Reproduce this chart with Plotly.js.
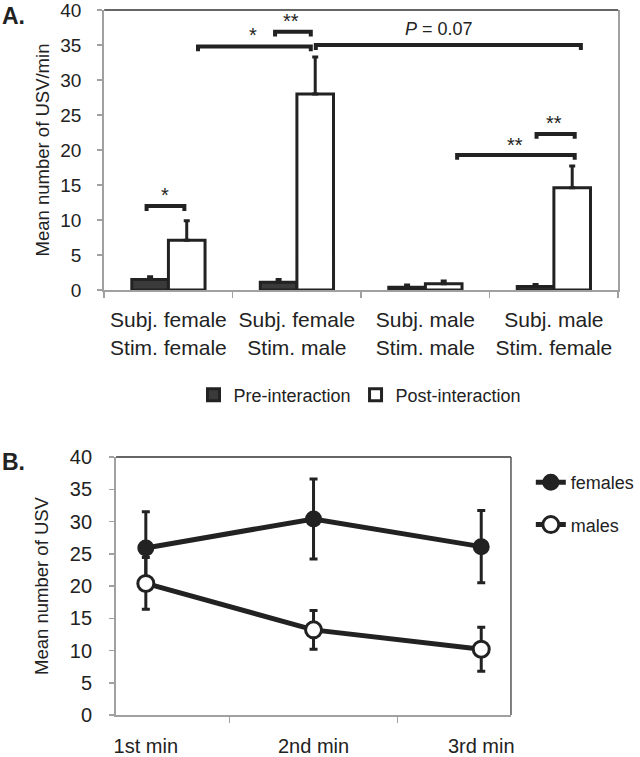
<!DOCTYPE html>
<html>
<head>
<meta charset="utf-8">
<script src="https://cdn.plot.ly/plotly-3.0.1.min.js"></script>
<style>html,body{margin:0;padding:0;background:#fff;}#chart{width:640px;height:757px;}</style>
</head>
<body>
<div id="chart"></div>
<script>
// ---- Panel A data ----
const categories = ['Subj. female<br>Stim. female', 'Subj. female<br>Stim. male', 'Subj. male<br>Stim. male', 'Subj. male<br>Stim. female'];
const preValues = [1.5, 1.1, 0.4, 0.5];
const preErr = [0.4, 0.4, 0.3, 0.3];
const postValues = [7.1, 28.0, 0.9, 14.6];
const postErr = [2.8, 5.3, 0.4, 3.1];

// significance brackets (category-index coordinates)
const sigX0 = [-0.17, 0.83, 0.23, 1.147, 2.247, 2.865];
const sigX1 = [0.124, 1.108, 1.108, 3.21, 3.162, 3.162];
const sigY = [12.0, 36.9, 34.8, 35.0, 19.3, 22.3];
const sigLabel = ['*', '**', '*', '<i>P</i> = 0.07', '**', '**'];
const sigLabelX = [-0.03, 0.954, 0.66, 2.108, 2.695, 3.0];
const sigLabelY = [14.2, 39.0, 37.0, 37.3, 21.3, 24.5];

// ---- Panel B data ----
const minutes = ['1st min', '2nd min', '3rd min'];
const females = [25.9, 30.4, 26.1];
const femalesErr = [5.6, 6.2, 5.6];
const males = [20.4, 13.2, 10.2];
const malesErr = [4.0, 3.0, 3.4];

const FONT = 'Arial, "Liberation Sans", sans-serif';
const DARK = '#222222';
const GRAY = '#a0a0a0';

const traces = [
  {
    type: 'bar', name: 'Pre-interaction', x: categories, y: preValues,
    marker: {color: '#3a3a3a', line: {color: DARK, width: 3}},
    error_y: {type: 'data', symmetric: false, array: preErr, arrayminus: preErr.map(() => 0), color: DARK, thickness: 3, width: 3},
    xaxis: 'x', yaxis: 'y', legend: 'legend'
  },
  {
    type: 'bar', name: 'Post-interaction', x: categories, y: postValues,
    marker: {color: '#ffffff', line: {color: DARK, width: 3}},
    error_y: {type: 'data', symmetric: false, array: postErr, arrayminus: postErr.map(() => 0), color: DARK, thickness: 3, width: 3},
    xaxis: 'x', yaxis: 'y', legend: 'legend'
  },
  {
    type: 'scatter', mode: 'lines+markers', name: 'females', x: minutes, y: females,
    line: {color: DARK, width: 5},
    marker: {color: DARK, size: 15, line: {color: DARK, width: 2}},
    error_y: {type: 'data', array: femalesErr, color: DARK, thickness: 3, width: 4},
    xaxis: 'x2', yaxis: 'y2', legend: 'legend2', legendgroup: 'f'
  },
  {
    type: 'scatter', mode: 'lines+markers', name: 'males', x: minutes, y: males,
    line: {color: DARK, width: 5},
    marker: {color: '#ffffff', size: 16, line: {color: DARK, width: 3}},
    error_y: {type: 'data', array: malesErr, color: DARK, thickness: 3, width: 4},
    xaxis: 'x2', yaxis: 'y2', legend: 'legend2', legendgroup: 'm'
  }
];

const shapes = [];
const annotations = [];
const tickDrop = 0.7;
for (let i = 0; i < sigY.length; i++) {
  shapes.push({
    type: 'path', xref: 'x', yref: 'y',
    path: `M ${sigX0[i]},${sigY[i] - tickDrop} L ${sigX0[i]},${sigY[i]} L ${sigX1[i]},${sigY[i]} L ${sigX1[i]},${sigY[i] - tickDrop}`,
    line: {color: DARK, width: 4}
  });
  const isStar = sigLabel[i].indexOf('*') === 0;
  annotations.push({
    xref: 'x', yref: 'y', x: sigLabelX[i], y: sigLabelY[i], text: sigLabel[i],
    showarrow: false, yanchor: 'middle', xanchor: 'center', yshift: isStar ? -4 : 0,
    font: {family: FONT, size: isStar ? 20 : 18, color: DARK}
  });
}
// top frame lines
shapes.push({type: 'line', xref: 'x domain', yref: 'y domain', x0: 0, x1: 1, y0: 1, y1: 1, line: {color: '#333', width: 1.5}});
shapes.push({type: 'line', xref: 'x2 domain', yref: 'y2 domain', x0: 0, x1: 1, y0: 1, y1: 1, line: {color: '#333', width: 1.5}});
shapes.push({type: 'line', xref: 'x2 domain', yref: 'y2 domain', x0: 1, x1: 1, y0: 0, y1: 1, line: {color: '#555', width: 1.5}});

annotations.push({xref: 'paper', yref: 'paper', x: 0, y: 1 - 16 / 757, xanchor: 'left', yanchor: 'middle', text: '<b>A.</b>', showarrow: false, font: {family: FONT, size: 23, color: DARK}});
annotations.push({xref: 'paper', yref: 'paper', x: 0, y: 1 - 462 / 757, xanchor: 'left', yanchor: 'middle', text: '<b>B.</b>', showarrow: false, font: {family: FONT, size: 23, color: DARK}});

const layout = {
  width: 640, height: 757,
  margin: {l: 0, r: 0, t: 0, b: 0},
  paper_bgcolor: '#fff', plot_bgcolor: '#fff',
  font: {family: FONT, color: DARK},
  barmode: 'group', bargap: 0.43, bargroupgap: 0,
  xaxis: {
    domain: [105 / 640, 623 / 640], anchor: 'y', type: 'category',
    tickson: 'boundaries', ticks: 'outside', ticklen: 6, tickcolor: GRAY, tickwidth: 1.5,
    showline: true, linecolor: GRAY, linewidth: 2, mirror: false,
    showgrid: false, zeroline: false, automargin: false,
    tickfont: {family: FONT, size: 21, color: DARK}, ticklabelstandoff: 10
  },
  yaxis: {
    domain: [1 - 290 / 757, 1 - 10 / 757], anchor: 'x',
    range: [0, 40], dtick: 5, ticks: 'outside', ticklen: 5, tickcolor: GRAY, tickwidth: 1.5,
    showline: true, linecolor: GRAY, linewidth: 2, mirror: true,
    showgrid: false, zeroline: false, automargin: false, ticklabeloverflow: 'allow',
    tickfont: {family: FONT, size: 19, color: DARK}, ticklabelstandoff: 12,
    title: {text: 'Mean number of USV/min', font: {family: FONT, size: 18.5, color: DARK}, standoff: 6}
  },
  xaxis2: {
    domain: [117 / 640, 515 / 640], anchor: 'y2', type: 'category',
    tickson: 'boundaries', ticks: 'outside', ticklen: 6, tickcolor: GRAY, tickwidth: 1.5,
    showline: true, linecolor: GRAY, linewidth: 2,
    showgrid: false, zeroline: false, automargin: false, ticklabeloverflow: 'allow',
    tickfont: {family: FONT, size: 20, color: DARK}, ticklabelstandoff: 12
  },
  yaxis2: {
    domain: [1 - 715 / 757, 1 - 457 / 757], anchor: 'x2',
    range: [0, 40], dtick: 5, ticks: 'outside', ticklen: 5, tickcolor: GRAY, tickwidth: 1.5,
    showline: true, linecolor: GRAY, linewidth: 2,
    showgrid: false, zeroline: false, automargin: false, ticklabeloverflow: 'allow',
    tickfont: {family: FONT, size: 20, color: DARK}, ticklabelstandoff: 13,
    title: {text: 'Mean number of USV', font: {family: FONT, size: 18.5, color: DARK}, standoff: 16}
  },
  legend: {
    orientation: 'h', x: 195 / 640, xanchor: 'left', y: 1 - 395 / 757, yanchor: 'middle',
    font: {family: FONT, size: 18, color: DARK}, itemwidth: 30, bgcolor: 'rgba(0,0,0,0)'
  },
  legend2: {
    orientation: 'v', x: 535 / 640, xanchor: 'left', y: 1 - 464 / 757, yanchor: 'top',
    font: {family: FONT, size: 18, color: DARK}, tracegroupgap: 16, bgcolor: 'rgba(0,0,0,0)'
  },
  shapes: shapes,
  annotations: annotations,
  showlegend: true
};

Plotly.newPlot('chart', traces, layout, {displayModeBar: false, staticPlot: true});
</script>
</body>
</html>
